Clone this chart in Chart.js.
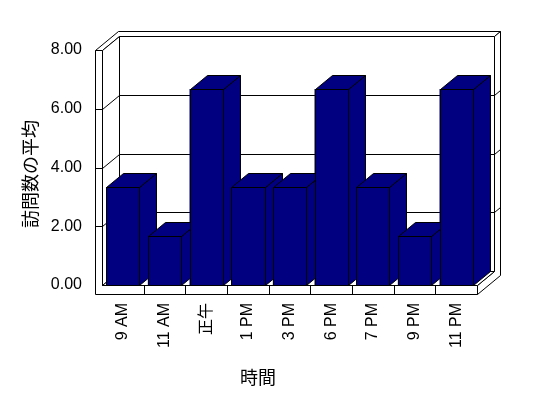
<!DOCTYPE html>
<html>
<head>
<meta charset="utf-8">
<script src="https://cdn.jsdelivr.net/npm/chart.js@4/dist/chart.umd.min.js"></script>
<style>
html,body{margin:0;padding:0;background:#fff;}
#c{display:block;}
</style>
</head>
<body>
<canvas id="c" width="548" height="398"></canvas>
<script>
// ---- data ----
const categories = ["9 AM", "11 AM", "正午", "1 PM", "3 PM", "6 PM", "7 PM", "9 PM", "11 PM"];
const avgVisits = [3.33, 1.67, 6.67, 3.33, 3.33, 6.67, 3.33, 1.67, 6.67];
const yTicks = [0, 2, 4, 6, 8];
const yTitle = "訪問数の平均";
const xTitle = "時間";

// ---- style constants ----
const DX = 17, DY = -14;      // depth of plot / bars
const TX = 6, TY = -5;        // back wall thickness
const WALL = 7;               // left wall thickness
const FLOOR = 9;              // floor thickness
const BAR = '#000080';
const LATIN = '"Liberation Sans", Arial, "Noto Sans CJK JP", sans-serif';
const CJK = '"Noto Sans CJK JP", "Noto Sans CJK SC", sans-serif';

const s = v => Math.round(v) + 0.5;

function poly(ctx, pts, fill) {
  ctx.beginPath();
  pts.forEach((p, i) => i ? ctx.lineTo(s(p[0]), s(p[1])) : ctx.moveTo(s(p[0]), s(p[1])));
  ctx.closePath();
  ctx.fillStyle = fill;
  ctx.fill();
  ctx.stroke();
}
function line(ctx, x0, y0, x1, y1) {
  ctx.beginPath();
  ctx.moveTo(s(x0), s(y0));
  ctx.lineTo(s(x1), s(y1));
  ctx.stroke();
}

const box3d = {
  id: 'box3d',
  beforeDatasetsDraw(chart) {
    const ctx = chart.ctx;
    const {left: L, right: R, top: T, bottom: B} = chart.chartArea;
    const ys = chart.scales.y;
    const L0 = L - WALL, BF = B + FLOOR;
    const z = [[0, 0], [DX, DY], [DX + TX, DY + TY]];
    const P = (x, y, k) => [x + z[k][0], y + z[k][1]];
    ctx.save();
    ctx.lineWidth = 1;
    ctx.strokeStyle = '#000';
    poly(ctx, [P(L0, T, 0), P(L, T, 0), P(L, T, 1), P(R, T, 1), P(R, T, 2), P(L0, T, 2)], '#fff');
    poly(ctx, [P(R, T, 1), P(R, T, 2), P(R, BF, 2), P(R, BF, 0), P(R, B, 0), P(R, B, 1)], '#fff');
    poly(ctx, [P(L0, T, 0), P(L, T, 0), P(L, B, 0), P(R, B, 0), P(R, BF, 0), P(L0, BF, 0)], '#fff');
    poly(ctx, [P(L, T, 0), P(L, T, 1), P(L, B, 1), P(L, B, 0)], '#fff');
    poly(ctx, [P(L, B, 0), P(R, B, 0), P(R, B, 1), P(L, B, 1)], '#fff');
    poly(ctx, [P(L, T, 1), P(R, T, 1), P(R, B, 1), P(L, B, 1)], '#fff');
    yTicks.forEach(v => {
      if (v === yTicks[0] || v === yTicks[yTicks.length - 1]) return;
      const y = ys.getPixelForValue(v);
      line(ctx, L0, y, L, y);
      line(ctx, L, y, L + DX, y + DY);
      line(ctx, L + DX, y + DY, R + DX, y + DY);
      line(ctx, R + DX, y + DY, R + DX + TX, y + DY + TY);
    });
    const n = categories.length;
    const w = (R - L) / n;
    for (let i = 1; i < n; i++) {
      line(ctx, L + i * w, B, L + i * w, BF);
    }
    ctx.restore();
  },
  afterDatasetsDraw(chart) {
    const ctx = chart.ctx;
    const meta = chart.getDatasetMeta(0);
    ctx.save();
    ctx.lineWidth = 1;
    ctx.strokeStyle = '#000';
    meta.data.forEach(el => {
      const x0 = el.x - el.width / 2, x1 = el.x + el.width / 2;
      const yt = el.y, yb = el.base;
      poly(ctx, [[x1, yt], [x1 + DX, yt + DY], [x1 + DX, yb + DY], [x1, yb]], BAR);
      poly(ctx, [[x0, yt], [x1, yt], [x1 + DX, yt + DY], [x0 + DX, yt + DY]], BAR);
      poly(ctx, [[x0, yt], [x1, yt], [x1, yb], [x0, yb]], BAR);
    });
    ctx.restore();
  },
  afterDraw(chart) {
    const ctx = chart.ctx;
    ctx.save();
    ctx.fillStyle = '#000';
    ctx.font = '18px ' + CJK;
    ctx.textAlign = 'center';
    ctx.textBaseline = 'middle';
    ctx.fillText(xTitle, 258, 377);
    ctx.translate(30, 174);
    ctx.rotate(-Math.PI / 2);
    ctx.fillText(yTitle, 0, 0);
    ctx.restore();
  }
};

new Chart(document.getElementById('c'), {
  type: 'bar',
  data: {
    labels: categories,
    datasets: [{
      data: avgVisits,
      backgroundColor: BAR,
      borderColor: '#000',
      borderWidth: 0,
      barPercentage: 0.8,
      categoryPercentage: 1.0
    }]
  },
  plugins: [box3d],
  options: {
    responsive: false,
    animation: false,
    devicePixelRatio: 1,
    layout: {padding: {top: 50, right: 71, left: 0, bottom: 0}},
    plugins: {legend: {display: false}, tooltip: {enabled: false}, title: {display: false}},
    scales: {
      x: {
        grid: {display: false, drawTicks: false},
        border: {display: false},
        ticks: {
          color: '#000',
          font: {size: 16, family: LATIN},
          minRotation: 90, maxRotation: 90,
          autoSkip: false,
          padding: 18
        },
        afterFit(scale) { scale.height = 113; }
      },
      y: {
        min: 0, max: 8,
        grid: {display: false, drawTicks: false},
        border: {display: false},
        afterBuildTicks(scale) { scale.ticks = yTicks.map(v => ({value: v})); },
        ticks: {
          color: '#000',
          font: {size: 16, family: LATIN},
          padding: 20,
          callback: v => Number(v).toFixed(2)
        },
        afterFit(scale) { scale.width = 102; }
      }
    }
  }
});
</script>
</body>
</html>
